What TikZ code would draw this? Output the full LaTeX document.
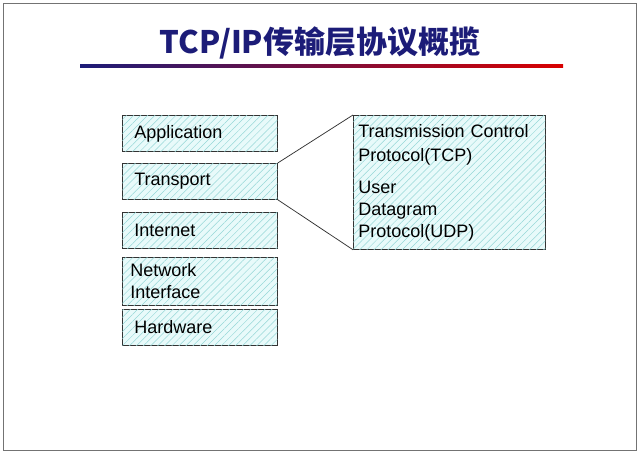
\documentclass[tikz,border=0pt]{standalone}
\usepackage{fontspec}
\setmainfont{Liberation Sans}
\newfontfamily\cjk{Noto Sans CJK SC}
\usetikzlibrary{patterns.meta}
\definecolor{hatchbg}{RGB}{232,250,250}
\definecolor{hatchln}{RGB}{150,215,215}
\definecolor{titleblue}{RGB}{28,28,120}
\tikzset{every picture/.style={line width=0.75pt}}
\tikzset{
  layer/.style={draw=black!80, fill=hatchbg, postaction={pattern={Lines[angle=45,distance=5pt,line width=0.5pt]}, pattern color=hatchln},
    anchor=north west, minimum width=155pt, minimum height=36pt, inner xsep=12pt,
    text width=131pt, align=left, font=\fontsize{18}{23}\selectfont},
}

\begin{document}
\begin{tikzpicture}[x=1pt,y=1pt,yscale=-1,xscale=1]
	\useasboundingbox (0,0) rectangle (640,454);
	% frame
	\draw [color=black!55, line width=0.6pt] (3,3) rectangle (636,450);

	% Title
	\node (title) at (320,43) {\cjk\bfseries\fontsize{31}{34}\selectfont\color{titleblue}TCP/IP传输层协议概揽};
	\shade [left color=titleblue, right color=red!85!black] (80,65) rectangle (563,68);

	% Layers
	\node [layer] (app) at (122,115) {Application};
	\node [layer] (trans) at (122,163) {Transport};
	\node [layer] (inet) at (122,212) {Internet};
	\node [layer, minimum height=48pt] (net) at (122,257) {\hspace*{-4pt}Network\\[-1pt]\hspace*{-4pt}Interface};
	\node [layer] (hw) at (122,309) {Hardware};

	% Protocols
	\node [layer, minimum width=191pt, text width=182pt, minimum height=134pt, inner xsep=5pt, anchor=north west, font=\fontsize{18}{24}\selectfont] (proto) at (353,115)
	  {Transmission Control\\Protocol(TCP)\\[8pt]User\\[-2pt]Datagram\\[-2pt]Protocol(UDP)\\[-4pt]};

	% Zoom lines
	\draw [color=black!80] (trans.north east) -- (proto.north west);
	\draw [color=black!80] (trans.south east) -- (proto.south west);
\end{tikzpicture}
\end{document}
